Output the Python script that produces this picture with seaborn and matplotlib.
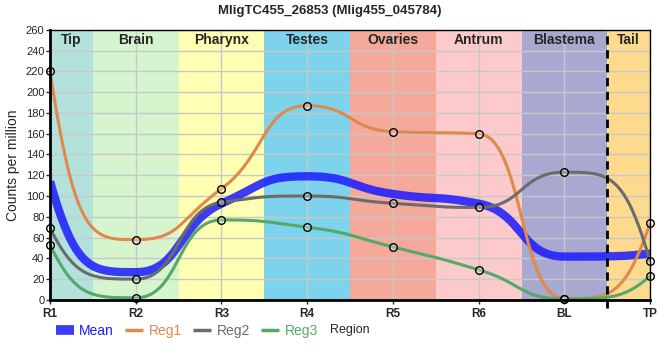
import numpy as np
import pandas as pd
import matplotlib
matplotlib.use("Agg")
import matplotlib.pyplot as plt
from matplotlib.lines import Line2D
import seaborn as sns

regions = ["R1", "R2", "R3", "R4", "R5", "R6", "BL", "TP"]
reg1 = [220, 58, 107, 187, 162, 160, 1, 74]
reg2 = [69, 20, 94, 100, 93, 89, 123, 37]
reg3 = [53, 2, 77, 70, 51, 29, 1, 23]
band_names = ["Tip", "Brain", "Pharynx", "Testes", "Ovaries", "Antrum", "Blastema", "Tail"]
band_edges = [0, 0.5, 1.5, 2.5, 3.5, 4.5, 5.5, 6.5, 7]
band_colors = ["#b3e2dd", "#d6f5cf", "#ffffb3", "#7dd3eb", "#f4a99b", "#fccaca", "#a8a8d0", "#fdda8d"]

mean = list(np.mean([reg1, reg2, reg3], axis=0))


def smooth_line(x, y, L=0.52, L_end=0.3, n=40):
    # bezier curve through the points, flat at peaks/valleys (no overshoot)
    x = np.asarray(x, float); y = np.asarray(y, float)
    k = len(x)
    h = np.diff(x); d = np.diff(y) / h
    m = np.zeros(k)
    for i in range(1, k - 1):
        if d[i - 1] * d[i] > 0:
            m[i] = 2 / (1 / d[i - 1] + 1 / d[i])
    m[0] = 4 * d[0]
    m[-1] = 4 * d[-1]
    xs, ys = [], []
    t = np.linspace(0, 1, n)[:-1]
    for i in range(k - 1):
        la = L_end if i == 0 else L
        lb = L_end if i + 1 == k - 1 else L
        lo, hi = min(y[i], y[i + 1]), max(y[i], y[i + 1])
        p0 = (x[i], y[i])
        p1 = (x[i] + la * h[i], np.clip(y[i] + la * h[i] * m[i], lo, hi))
        p2 = (x[i + 1] - lb * h[i], np.clip(y[i + 1] - lb * h[i] * m[i + 1], lo, hi))
        p3 = (x[i + 1], y[i + 1])
        for j, out in ((0, xs), (1, ys)):
            out.extend((1 - t)**3 * p0[j] + 3 * (1 - t)**2 * t * p1[j]
                       + 3 * (1 - t) * t**2 * p2[j] + t**3 * p3[j])
    xs.append(x[-1]); ys.append(y[-1])
    return np.array(xs), np.array(ys)


sns.set_style("white")
plt.rcParams['font.family'] = ['Liberation Sans', 'DejaVu Sans']

fig, ax = plt.subplots(figsize=(6.6, 3.6), dpi=100)
fig.subplots_adjust(left=0.0758, right=0.985, top=0.917, bottom=0.167)

xpos = np.arange(len(regions))

for i, name in enumerate(band_names):
    ax.axvspan(band_edges[i], band_edges[i + 1], color=band_colors[i], lw=0, zorder=0)
    ax.text((band_edges[i] + band_edges[i + 1]) / 2, 250, name, ha="center", va="center",
            fontsize=10, fontweight="bold", zorder=5)

series = [("Mean", mean, "#1a1aff", 6, 0.85),
          ("Reg1", reg1, "#e0894a", 2.2, 1),
          ("Reg2", reg2, "#6b6b6b", 2.2, 1),
          ("Reg3", reg3, "#55a868", 2.2, 1)]
for name, vals, col, lw, a in series:
    sx, sy = smooth_line(xpos, vals)
    smooth = pd.DataFrame({"x": sx, "y": sy})
    sns.lineplot(data=smooth, x="x", y="y", color=col, lw=lw, alpha=a, ax=ax, zorder=3,
                 sort=False, estimator=None, solid_capstyle="butt")
for name, vals, col, lw, a in series[1:]:
    pts = pd.DataFrame({"x": xpos, "y": vals})
    sns.scatterplot(data=pts, x="x", y="y", s=30, facecolor=(1, 1, 1, 0.3), edgecolor="black",
                    linewidth=1, ax=ax, zorder=4, clip_on=False)

ax.axvline(6.5, ymin=-0.03, ymax=1, color="black", lw=2, ls=(0, (3, 2)), zorder=5, clip_on=False)

ax.set_xlim(0, 7)
ax.set_ylim(0, 260)
ax.set_yticks(range(0, 261, 20))
ax.set_xticks(xpos)
ax.set_xticklabels(regions, fontweight="bold", fontsize=8.5)
ax.tick_params(axis="y", labelsize=8, length=3, width=1, pad=1, left=True)
ax.tick_params(axis="x", length=3, width=1, pad=3, bottom=True)
ax.grid(True, color="#c8c8c8", lw=1, zorder=1)
ax.set_axisbelow(False)
for line in ax.get_xgridlines() + ax.get_ygridlines():
    line.set_zorder(1)
for s in ["left", "bottom"]:
    ax.spines[s].set_linewidth(2)
for s in ["top", "right"]:
    ax.spines[s].set_linewidth(1)
for s in ax.spines.values():
    s.set_color("black"); s.set_zorder(6)
ax.set_xlabel("")
ax.set_ylabel("Counts per million", fontsize=10)

fig.suptitle("MligTC455_26853 (Mlig455_045784)", x=0.5, y=0.985, fontsize=9.5, fontweight="bold")

handles = [Line2D([], [], color=c, lw=(7 if n == "Mean" else 2.5), alpha=a, solid_capstyle="butt")
           for n, v, c, lw, a in series]
leg = ax.legend(handles, [s[0] for s in series], loc="center left", bbox_to_anchor=(0.0, -0.115),
                ncol=4, frameon=False, fontsize=10, handlelength=1.3, handletextpad=0.4,
                columnspacing=0.8, labelcolor="linecolor", borderaxespad=0)
fig.text(350 / 660, 1 - 330 / 360, "Region", ha="center", va="center", fontsize=9)

fig.savefig("out.png", dpi=100)
